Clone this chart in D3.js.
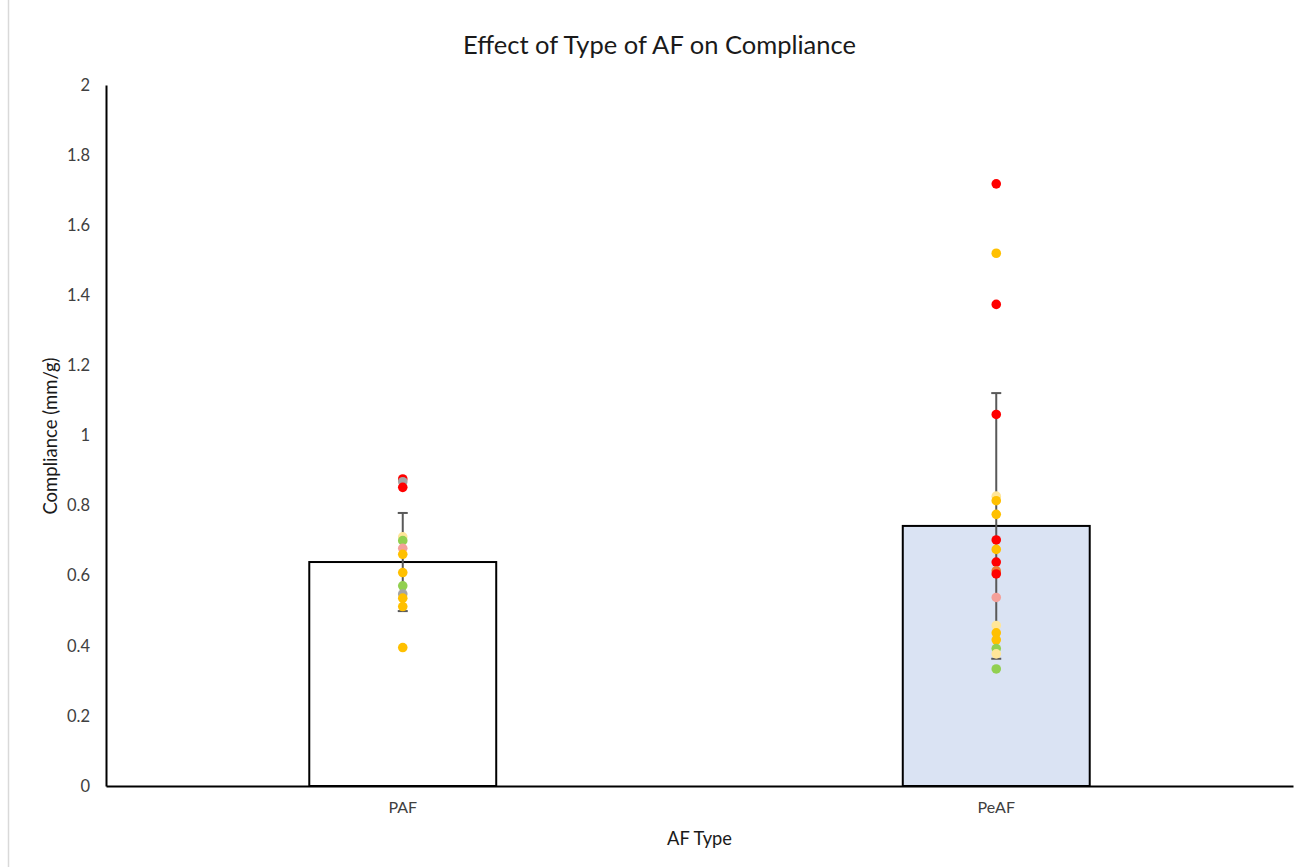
<!DOCTYPE html>
<html>
<head>
<meta charset="utf-8">
<script src="https://cdn.jsdelivr.net/npm/d3@7"></script>
<style>
  html, body { margin: 0; padding: 0; background: #fff; }
  svg { display: block; }
</style>
</head>
<body>
<svg id="chart" width="1302" height="867"></svg>
<script>
const categories = ["PAF", "PeAF"];
const means = [0.639, 0.742];
const errors = [0.140, 0.379];
const barFills = ["#FFFFFF", "#DAE3F3"];
const yTicks = [0, 0.2, 0.4, 0.6, 0.8, 1, 1.2, 1.4, 1.6, 1.8, 2];

const pafValues = [0.876, 0.868, 0.852, 0.711, 0.700, 0.678, 0.661, 0.609, 0.571, 0.548, 0.536, 0.512, 0.395];
const pafColors = ["#FF0000", "#A5A5A5", "#FF0000", "#FFE699", "#92D050", "#F4A09A", "#FFC000", "#FFC000", "#92D050", "#A5A5A5", "#FFC000", "#FFC000", "#FFC000"];
const peafValues = [1.718, 1.520, 1.374, 1.060, 0.827, 0.814, 0.775, 0.702, 0.675, 0.639, 0.614, 0.605, 0.538, 0.458, 0.437, 0.417, 0.392, 0.377, 0.334];
const peafColors = ["#FF0000", "#FFC000", "#FF0000", "#FF0000", "#FFE699", "#FFC000", "#FFC000", "#FF0000", "#FFC000", "#FF0000", "#ED7D31", "#FF0000", "#F4A09A", "#FFE699", "#FFC000", "#FFC000", "#92D050", "#FFE699", "#92D050"];

const svg = d3.select("#chart");
const font = "Lato, 'Open Sans', sans-serif";

const plotLeft = 106, plotRight = 1293, plotTop = 85, plotBottom = 786;

const x = d3.scaleBand().domain(categories).range([plotLeft, plotRight]).paddingInner(0.685).paddingOuter(0.3425);
const y = d3.scaleLinear().domain([0, 2]).range([plotBottom, plotTop]);

// chart border (left edge)
svg.append("line").attr("x1", 8.5).attr("x2", 8.5).attr("y1", 0).attr("y2", 867)
  .attr("stroke", "#D9D9D9").attr("stroke-width", 1.5);

// title
svg.append("text").attr("x", 659.5).attr("y", 54).attr("text-anchor", "middle")
  .attr("font-family", font).attr("font-size", 25.5).attr("fill", "#1a1a1a")
  .text("Effect of Type of AF on Compliance");

// bars
svg.selectAll("rect.bar").data(categories).join("rect").attr("class", "bar")
  .attr("x", d => x(d)).attr("width", x.bandwidth())
  .attr("y", (d, i) => y(means[i])).attr("height", (d, i) => y(0) - y(means[i]))
  .attr("fill", (d, i) => barFills[i]).attr("stroke", "#000").attr("stroke-width", 2);

// y axis
const yAxis = d3.axisLeft(y).tickValues(yTicks).tickSize(0).tickPadding(16).tickFormat(d3.format("~g"));
const gy = svg.append("g").attr("transform", `translate(${plotLeft},0)`).call(yAxis);
gy.select(".domain").attr("stroke", "#000").attr("stroke-width", 2);
gy.selectAll("text").attr("font-family", font).attr("font-size", 16.5).attr("fill", "#404040");

// x axis
const xAxis = d3.axisBottom(x).tickSize(0).tickPadding(16);
const gx = svg.append("g").attr("transform", `translate(0,${plotBottom})`).call(xAxis);
gx.select(".domain").attr("stroke", "#000").attr("stroke-width", 2);
gx.selectAll("text").attr("font-family", font).attr("font-size", 16).attr("fill", "#404040");

// error bars
const cx = d => x(d) + x.bandwidth() / 2;
const eb = svg.append("g").attr("stroke", "#595959").attr("stroke-width", 2);
categories.forEach((c, i) => {
  const hi = y(means[i] + errors[i]), lo = y(means[i] - errors[i]);
  eb.append("line").attr("x1", cx(c)).attr("x2", cx(c)).attr("y1", hi).attr("y2", lo);
  eb.append("line").attr("x1", cx(c) - 5).attr("x2", cx(c) + 5).attr("y1", hi).attr("y2", hi);
  eb.append("line").attr("x1", cx(c) - 5).attr("x2", cx(c) + 5).attr("y1", lo).attr("y2", lo);
});

// points
const drawPts = (vals, cols, cat) => {
  svg.append("g").selectAll("circle").data(vals).join("circle")
    .attr("cx", cx(cat)).attr("cy", d => y(d)).attr("r", 4.8)
    .attr("fill", (d, i) => cols[i]);
};
drawPts(pafValues, pafColors, "PAF");
drawPts(peafValues, peafColors, "PeAF");

// axis titles
svg.append("text").attr("x", 699.5).attr("y", 845).attr("text-anchor", "middle")
  .attr("font-family", font).attr("font-size", 18.3).attr("fill", "#1a1a1a").text("AF Type");
svg.append("text").attr("transform", "translate(57,436) rotate(-90)").attr("text-anchor", "middle")
  .attr("font-family", font).attr("font-size", 18.5).attr("fill", "#1a1a1a").text("Compliance (mm/g)");
</script>
</body>
</html>
